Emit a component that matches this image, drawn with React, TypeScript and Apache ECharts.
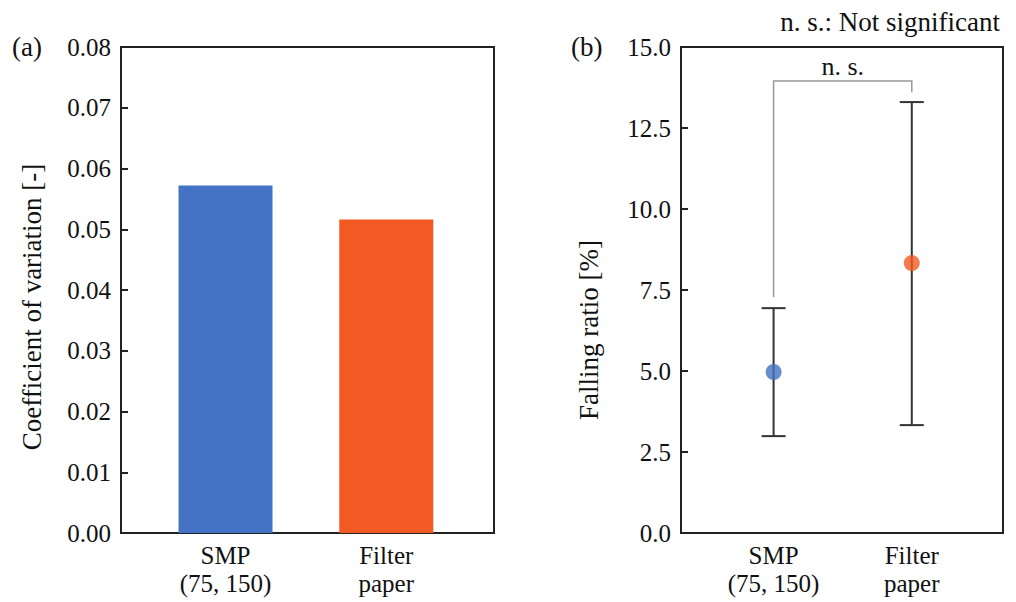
import React, { useEffect, useRef } from "react";
import * as echarts from "echarts";

const categories = ["SMP\n(75, 150)", "Filter\npaper"];
const categoryPos = [1, 2];
const cvValues = [0.0572, 0.0516];
const fallMean = [4.97, 8.33];
const fallLow = [2.99, 3.33];
const fallHigh = [6.94, 13.3];
const colors = ["#4472C4", "#F15A22"];
const bracketTop = 13.95;
const bracketEnds = [7.28, 13.6];
const leftTicks = { min: 0, max: 0.08, interval: 0.01 };
const rightTicks = { min: 0, max: 15, interval: 2.5 };

const FONT = "Times New Roman, Liberation Serif, DejaVu Serif, serif";
const AX = "#222";
const TXT = "#111";

export default function App() {
  const ref = useRef<HTMLDivElement>(null);
  useEffect(() => {
    if (!ref.current) return;
    const chart = echarts.init(ref.current, undefined, { renderer: "svg" });
    const catLabel = (v: number) => {
      const i = categoryPos.indexOf(Math.round(v));
      return i >= 0 ? categories[i] : "";
    };
    const xAxisBase = {
      type: "value" as const,
      axisLine: { show: true, onZero: false, lineStyle: { color: AX, width: 2 } },
      axisTick: { show: false },
      splitLine: { show: false },
      axisLabel: {
        customValues: categoryPos,
        formatter: catLabel,
        fontFamily: FONT,
        fontSize: 25,
        color: TXT,
        lineHeight: 28,
        margin: 8,
      },
    };
    const yAxisBase = {
      type: "value" as const,
      axisLine: { show: true, lineStyle: { color: AX, width: 2 } },
      axisTick: { show: true, inside: true, length: 7, lineStyle: { color: AX, width: 2 } },
      splitLine: { show: false },
    };
    const option: any = {
      animation: false,
      backgroundColor: "#fff",
      textStyle: { fontFamily: FONT },
      grid: [
        { left: 121, top: 47, width: 373, height: 486, show: true, borderColor: AX, borderWidth: 2, backgroundColor: "transparent" },
        { left: 681, top: 47, width: 322, height: 486, show: true, borderColor: AX, borderWidth: 2, backgroundColor: "transparent" },
      ],
      xAxis: [
        { ...xAxisBase, gridIndex: 0, min: 0.35, max: 2.67 },
        { ...xAxisBase, gridIndex: 1, min: 0.33, max: 2.66 },
      ],
      yAxis: [
        {
          ...yAxisBase,
          gridIndex: 0,
          ...leftTicks,
          axisLabel: { formatter: (v: number) => v.toFixed(2), fontFamily: FONT, fontSize: 25, color: TXT, margin: 10 },
        },
        {
          ...yAxisBase,
          gridIndex: 1,
          ...rightTicks,
          axisLabel: { formatter: (v: number) => v.toFixed(1), fontFamily: FONT, fontSize: 25, color: TXT, margin: 10 },
        },
      ],
      series: [
        {
          type: "bar",
          xAxisIndex: 0,
          yAxisIndex: 0,
          barWidth: 94,
          data: cvValues.map((v, i) => ({ value: [categoryPos[i], v], itemStyle: { color: colors[i] } })),
        },
        {
          type: "custom",
          xAxisIndex: 1,
          yAxisIndex: 1,
          z: 2,
          data: fallMean.map((_, i) => [categoryPos[i], fallLow[i], fallHigh[i]]),
          renderItem: (params: any, api: any) => {
            const x = api.value(0);
            const lo = api.coord([x, api.value(1)]);
            const hi = api.coord([x, api.value(2)]);
            const st = { stroke: "#333", lineWidth: 2 };
            return {
              type: "group",
              children: [
                { type: "line", shape: { x1: lo[0], y1: lo[1], x2: hi[0], y2: hi[1] }, style: st },
                { type: "line", shape: { x1: lo[0] - 12, y1: lo[1], x2: lo[0] + 12, y2: lo[1] }, style: st },
                { type: "line", shape: { x1: hi[0] - 12, y1: hi[1], x2: hi[0] + 12, y2: hi[1] }, style: st },
              ],
            };
          },
        },
        {
          type: "custom",
          xAxisIndex: 1,
          yAxisIndex: 1,
          z: 1,
          data: [[categoryPos[0], categoryPos[1], bracketTop, bracketEnds[0], bracketEnds[1]]],
          renderItem: (params: any, api: any) => {
            const a = api.coord([api.value(0), api.value(3)]);
            const b = api.coord([api.value(0), api.value(2)]);
            const c = api.coord([api.value(1), api.value(2)]);
            const d = api.coord([api.value(1), api.value(4)]);
            return {
              type: "group",
              children: [
                {
                  type: "polyline",
                  shape: { points: [a, b, c, d] },
                  style: { stroke: "#999", lineWidth: 1.5, fill: "none" },
                },
                {
                  type: "text",
                  x: (b[0] + c[0]) / 2,
                  y: b[1] - 2,
                  style: { text: "n. s.", fontFamily: FONT, fontSize: 26, fill: TXT, align: "center", verticalAlign: "bottom" },
                },
              ],
            };
          },
        },
        {
          type: "scatter",
          xAxisIndex: 1,
          yAxisIndex: 1,
          z: 3,
          symbolSize: 16,
          data: fallMean.map((v, i) => ({ value: [categoryPos[i], v], itemStyle: { color: colors[i] } })),
        },
      ],
      graphic: [
        { type: "text", left: 12, top: 33, style: { text: "(a)", fontFamily: FONT, fontSize: 27, fill: TXT } },
        { type: "text", left: 571, top: 33, style: { text: "(b)", fontFamily: FONT, fontSize: 27, fill: TXT } },
        { type: "text", right: 16, top: 8, style: { text: "n. s.: Not significant", fontFamily: FONT, fontSize: 27, fill: TXT } },
        {
          type: "text",
          x: 32,
          y: 307,
          rotation: Math.PI / 2,
          style: { text: "Coefficient of variation [-]", fontFamily: FONT, fontSize: 27, fill: TXT, align: "center", verticalAlign: "middle" },
        },
        {
          type: "text",
          x: 589,
          y: 330,
          rotation: Math.PI / 2,
          style: { text: "Falling ratio [%]", fontFamily: FONT, fontSize: 27, fill: TXT, align: "center", verticalAlign: "middle" },
        },
      ],
    };
    chart.setOption(option);
    return () => chart.dispose();
  }, []);
  return <div ref={ref} style={{ position: "fixed", left: 0, top: 0, width: 1016, height: 602 }} />;
}
